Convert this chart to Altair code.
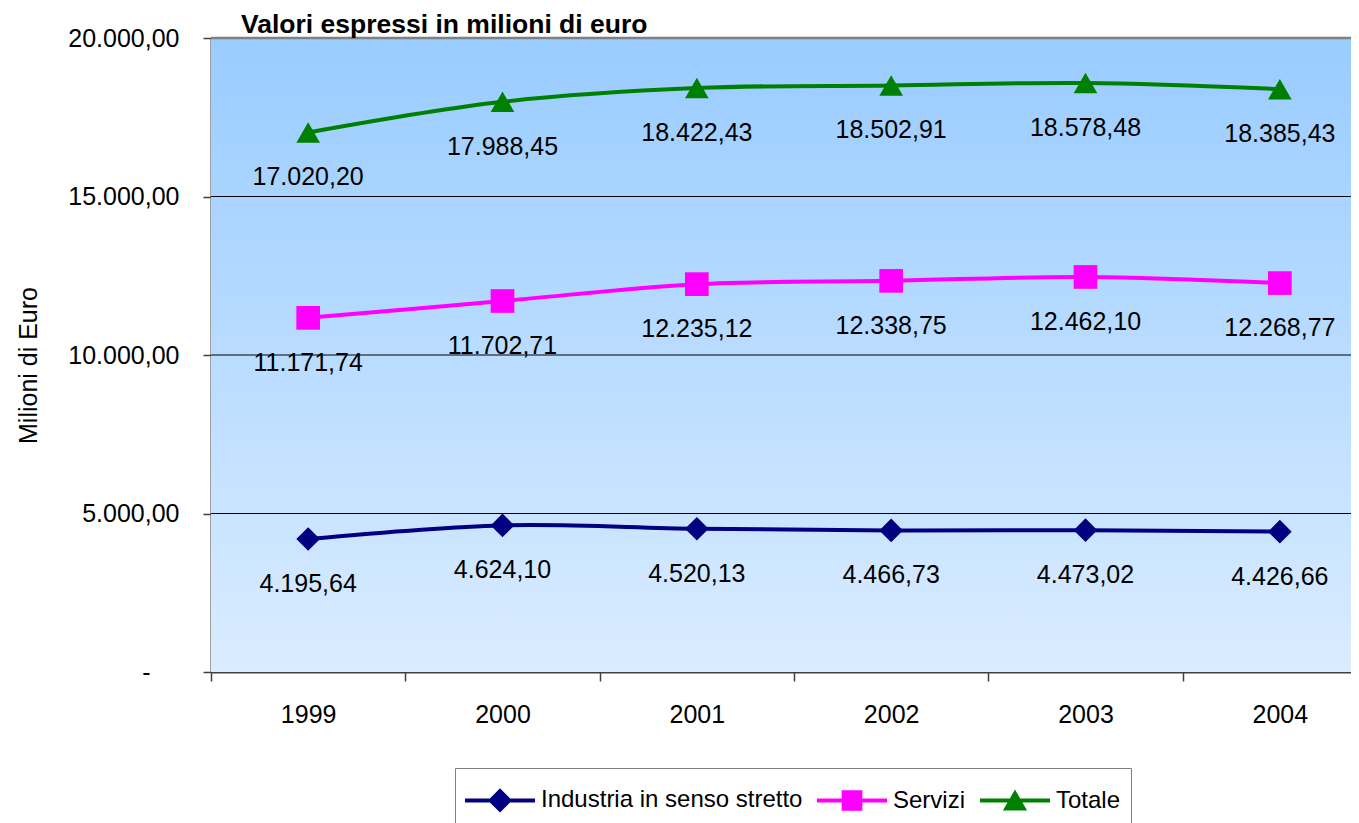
import altair as alt
import pandas as pd

# ---- data ----
years = ["1999", "2000", "2001", "2002", "2003", "2004"]
series = ["Industria in senso stretto", "Servizi", "Totale"]
industria = [4195.64, 4624.10, 4520.13, 4466.73, 4473.02, 4426.66]
servizi = [11171.74, 11702.71, 12235.12, 12338.75, 12462.10, 12268.77]
totale = [17020.20, 17988.45, 18422.43, 18502.91, 18578.48, 18385.43]
grid_values = [5000, 10000, 15000]
y_ticks = [0, 5000, 10000, 15000, 20000]

colors = ["#000080", "#FF00FF", "#008000"]
marker_shapes = ["diamond", "square", "triangle-up"]
# legend symbols: line segment + marker (unit = 22px)
legend_shapes = [
    "M-1.59,-0.09H1.59V0.09H-1.59Z M0,-0.55L0.55,0L0,0.55L-0.55,0Z",
    "M-1.59,-0.09H1.59V0.09H-1.59Z M-0.47,-0.47H0.47V0.47H-0.47Z",
    "M-1.59,-0.09H1.59V0.09H-1.59Z M0,-0.5L0.55,0.45L-0.55,0.45Z",
]


def it_fmt(v):
    s = f"{v:,.2f}"
    return s.replace(",", "#").replace(".", ",").replace("#", ".")


rows = []
for name, vals in zip(series, [industria, servizi, totale]):
    for yr, v in zip(years, vals):
        rows.append({"anno": yr, "serie": name, "valore": v, "etichetta": it_fmt(v)})
df = pd.DataFrame(rows)

W, H = 1140, 634
XR = 1166
FONT = "Liberation Sans"
FS = 25

x_enc = alt.X(
    "anno:O",
    scale=alt.Scale(type="band", domain=years, range=[0, XR], paddingInner=0, paddingOuter=0),
    axis=alt.Axis(
        title=None, tickBand="extent", labelAngle=0, labelFontSize=FS, labelPadding=21,
        tickSize=9, tickColor="#404040", tickWidth=1.5, domainColor="#404040", domainWidth=2,
        labelColor="black", labelFont=FONT, grid=False,
    ),
)
y_scale = alt.Scale(domain=[0, 20000], nice=False, zero=True)
y_enc = alt.Y(
    "valore:Q",
    scale=y_scale,
    axis=alt.Axis(
        values=y_ticks,
        labelExpr="datum.value == 0 ? '-' : replace(replace(replace(format(datum.value, ',.2f'), ',', '#'), '.', ','), '#', '.')",
        title="Milioni di Euro", titleFontSize=FS, titleFontWeight="normal", titleFont=FONT,
        titleX=-183, titleY=327, titleAngle=270, titleAlign="center", titleBaseline="middle",
        titleColor="black",
        labelFontSize=FS, labelFont=FONT, labelColor="black",
        labelPadding={"condition": {"test": "datum.value == 0", "value": 53}, "value": 24},
        tickSize=8, tickColor="#404040", tickWidth=1.5, domainColor="#404040", domainWidth=2,
        grid=False,
    ),
)

one = alt.Data(values=[{"k": 1}])

bg = alt.Chart(one).mark_rect(
    fill=alt.Gradient(
        gradient="linear",
        stops=[alt.GradientStop(color="#99CCFF", offset=0), alt.GradientStop(color="#DAECFF", offset=1)],
        x1=0, x2=0, y1=0, y2=1,
    )
).encode(x=alt.value(0), x2=alt.value(XR), y=alt.value(0), y2=alt.value(H))

grid = alt.Chart(pd.DataFrame({"g": grid_values})).mark_rule(color="black", strokeWidth=1).encode(
    y=alt.Y("g:Q", scale=y_scale), x=alt.value(0), x2=alt.value(XR)
)

topline = alt.Chart(one).mark_rule(color="#808080", strokeWidth=2.5).encode(
    x=alt.value(0), x2=alt.value(XR), y=alt.value(0)
)

color_scale = alt.Scale(domain=series, range=colors)

base = alt.Chart(df)

lines = base.mark_line(strokeWidth=4, interpolate="cardinal").encode(
    x=x_enc, y=y_enc, color=alt.Color("serie:N", scale=color_scale, legend=None)
)

points = base.mark_point(filled=True, opacity=1, size=560, strokeWidth=0).encode(
    x=x_enc, y=y_enc,
    color=alt.Color("serie:N", scale=color_scale, legend=None),
    shape=alt.Shape("serie:N", scale=alt.Scale(domain=series, range=marker_shapes), legend=None),
)

labels = base.mark_text(fontSize=FS, font=FONT, color="black", dy=45, baseline="middle").encode(
    x=x_enc, y=y_enc, text="etichetta:N"
)

legend_props = dict(
    orient="none", legendX=244, legendY=730, direction="horizontal", title=None,
    labelFontSize=24, labelFont=FONT, labelColor="black", labelLimit=500,
    symbolSize=1936, symbolOffset=13, labelOffset=19, symbolStrokeWidth=0,
    columnPadding=14, padding=10, strokeColor="#808080", fillColor="white",
    symbolOpacity=1,
)

legend_layer = base.transform_filter("datum.valore < 0").mark_point(filled=True, opacity=1).encode(
    color=alt.Color("serie:N", scale=color_scale, legend=alt.Legend(**legend_props)),
    shape=alt.Shape(
        "serie:N", scale=alt.Scale(domain=series, range=legend_shapes),
        legend=alt.Legend(**legend_props),
    ),
)

chart = alt.layer(bg, grid, topline, lines, points, labels, legend_layer).resolve_scale(
    color="independent", shape="independent"
).properties(
    width=W,
    height=H,
    title=alt.Title(
        "Valori espressi in milioni di euro", anchor="start", frame="group", dx=30, dy=14, offset=2,
        fontSize=26.5, fontWeight="bold", font=FONT, color="black",
    ),
    autosize=alt.AutoSizeParams(type="none"),
    padding={"left": 203, "top": 30, "right": 0, "bottom": 151},
).configure_view(stroke=None).configure(font=FONT, background="white")

chart.save("out.html", embed_options={"renderer": "svg", "actions": False})
